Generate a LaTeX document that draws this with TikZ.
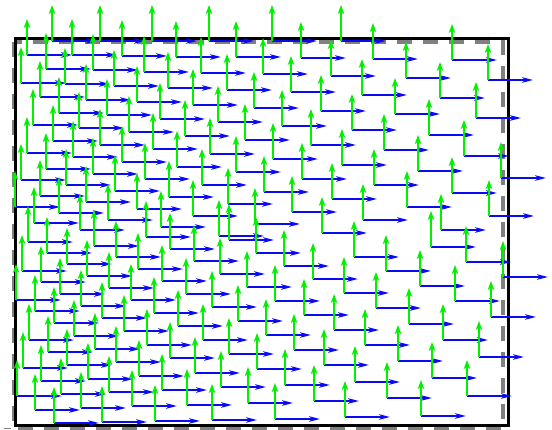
\documentclass[tikz,border=0pt]{standalone}
\usetikzlibrary{arrows.meta}
\definecolor{vgreen}{RGB}{0,240,0}
\definecolor{vblue}{RGB}{10,10,245}
\definecolor{dgray}{RGB}{128,128,128}
\tikzset{
  bvec/.style={vblue, line width=1.7pt, -{Stealth[length=11pt,width=5.5pt,inset=3pt]}},
  gvec/.style={vgreen, line width=1.7pt, -{Stealth[length=9pt,width=6.5pt,inset=2.5pt]}},
  outerbox/.style={black, line width=3pt, line join=miter},
  innerbox/.style={dgray, line width=4pt, dash pattern=on 15pt off 11pt},
}
\newcommand\bluevec[2]{\draw[bvec] (#1,#2) -- ++(45,0);}
\newcommand\greenvec[2]{\draw[gvec] (#1,#2) -- ++(0,-36);}
\newcommand\allpts[1]{%
  \foreach \j in {0,...,17}{%
    \foreach \k in {0,...,8}{%
      \pgfmathsetmacro\s{\k+frac(0.85+0.43*\j)}%
      \pgfmathsetmacro\xx{15+453.6*(exp(0.0926*\s)-1)}%
      \pgfmathsetmacro\dyy{13.8+5.8*(\xx-15)/488}%
      \pgfmathsetmacro\yy{41+\j*\dyy}%
      \pgfmathtruncatemacro\ok{and(\xx<=504,\yy<=236)*or(\j>0,\xx<350)}%
      \pgfmathtruncatemacro\xr{round(\xx)}%
      \pgfmathtruncatemacro\yr{round(\yy)}%
      \ifnum\ok=1 #1{\xr}{\yr}\fi
    }%
  }%
  \foreach \m in {0,...,17}{%
    \foreach \k in {0,...,8}{%
      \pgfmathsetmacro\s{\k+frac(0.9+0.57*\m)}%
      \pgfmathsetmacro\xx{15+453.6*(exp(0.0926*\s)-1)}%
      \pgfmathsetmacro\dyy{13.8+5.8*(\xx-15)/488}%
      \pgfmathsetmacro\yy{424-\m*\dyy-0.02*(\xx-15)}%
      \pgfmathsetmacro\yu{41+floor(195/\dyy)*\dyy}%
      \pgfmathtruncatemacro\ok{and(\xx<=504,\yy>=\yu+0.6*\dyy)}%
      \pgfmathtruncatemacro\xr{round(\xx)}%
      \pgfmathtruncatemacro\yr{round(\yy)}%
      \ifnum\ok=1 #1{\xr}{\yr}\fi
    }%
  }%
}
\begin{document}
\begin{tikzpicture}[x=1pt,y=-1pt]
  \useasboundingbox (0,0) rectangle (552,430);
  % frame
  \draw[innerbox] (14,42) rectangle (503,428);
  \draw[dgray, line width=1.5pt] (4,428.5) -- (11,428.5);
  \draw[outerbox] (15,39) rectangle (508,426);
  % vector field
  \allpts\bluevec
  \allpts\greenvec
\end{tikzpicture}
\end{document}
